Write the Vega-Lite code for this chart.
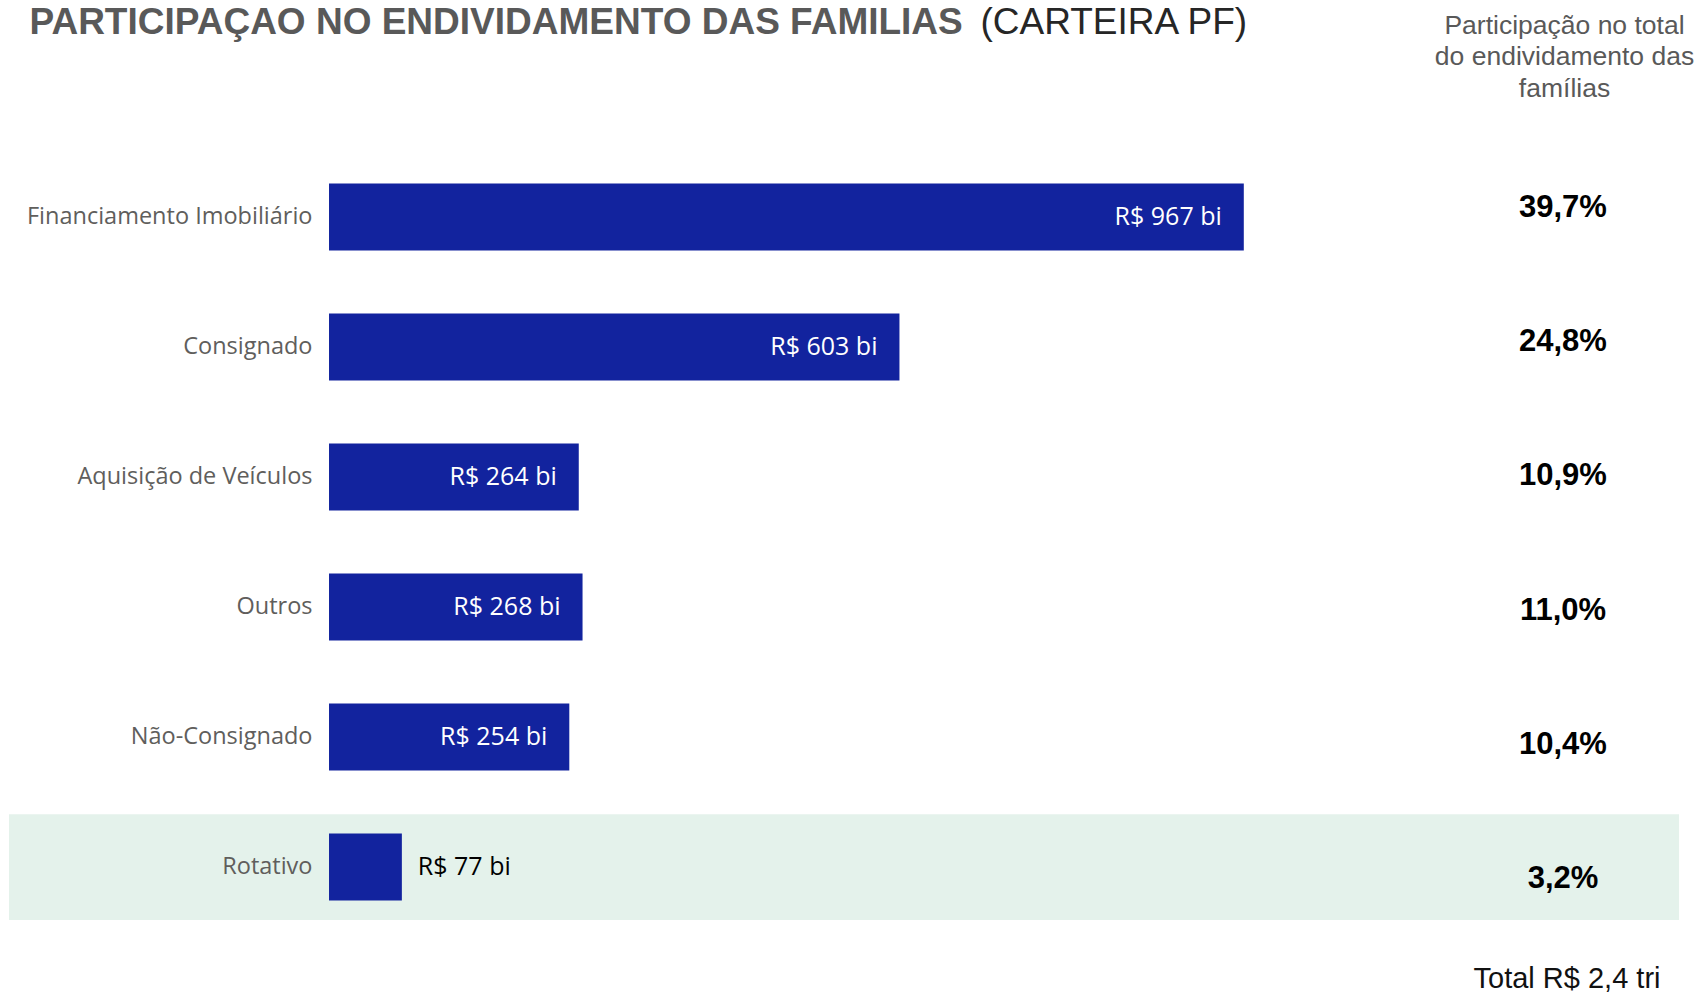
{
  "$schema": "https://vega.github.io/schema/vega-lite/v6.json",
  "width": 1701,
  "height": 993,
  "autosize": {"type": "none"},
  "padding": 0,
  "background": "white",
  "config": {
    "view": {"stroke": null},
    "axis": {"grid": false},
    "locale": {"number": {"decimal": ",", "thousands": ".", "grouping": [3], "currency": ["R$ ", ""]}}
  },
  "data": {
    "values": [
      {"categoria": "Financiamento Imobiliário", "valor": 967, "participacao": 0.397},
      {"categoria": "Consignado", "valor": 603, "participacao": 0.248},
      {"categoria": "Aquisição de Veículos", "valor": 264, "participacao": 0.109},
      {"categoria": "Outros", "valor": 268, "participacao": 0.110},
      {"categoria": "Não-Consignado", "valor": 254, "participacao": 0.104},
      {"categoria": "Rotativo", "valor": 77, "participacao": 0.032}
    ]
  },
  "layer": [
    {
      "encoding": {
        "y": {
          "field": "categoria",
          "type": "nominal",
          "sort": null,
          "scale": {
            "domain": ["Financiamento Imobiliário", "Consignado", "Aquisição de Veículos", "Outros", "Não-Consignado", "Rotativo"],
            "range": [152, 932],
            "paddingInner": 0.485,
            "paddingOuter": 0.2423
          },
          "axis": {
            "orient": "left",
            "offset": -329,
            "zindex": 1,
            "domain": false,
            "ticks": false,
            "grid": false,
            "labelPadding": 17,
            "labelFont": "Open Sans",
            "labelFontSize": 23.5,
            "labelColor": "#605E5C",
            "labelLimit": 400,
            "title": "(CARTEIRA PF)",
            "titleX": 651,
            "titleY": 33,
            "titleAngle": 0,
            "titleAlign": "left",
            "titleBaseline": "alphabetic",
            "titleFont": "Liberation Sans",
            "titleFontSize": 37,
            "titleFontWeight": "normal",
            "titleColor": "#262626"
          }
        }
      },
      "layer": [
        {
          "transform": [{"filter": "datum.categoria === 'Rotativo'"}],
          "mark": {"type": "bar", "color": "#E4F2EB", "height": {"band": 1.58}},
          "encoding": {
            "x": {"datum": -338.3, "type": "quantitative", "scale": {"domain": [-347.8, 1450.3], "nice": false, "zero": false}},
            "x2": {"datum": 1427.1}
          }
        },
        {
          "mark": {"type": "bar", "color": "#12239E"},
          "encoding": {
            "x": {
              "field": "valor",
              "type": "quantitative",
              "scale": {"domain": [-347.8, 1450.3], "nice": false, "zero": false},
              "axis": {
                "orient": "bottom",
                "labels": false,
                "ticks": false,
                "domain": false,
                "grid": false,
                "title": "Total R$ 2,4 tri",
                "titleX": 1660,
                "titleY": -6,
                "titleAlign": "right",
                "titleBaseline": "alphabetic",
                "titleFont": "Liberation Sans",
                "titleFontSize": 29,
                "titleFontWeight": "normal",
                "titleColor": "#111111"
              }
            }
          }
        },
        {
          "transform": [
            {"filter": "datum.valor > 100"},
            {"calculate": "'R$ ' + datum.valor + ' bi'", "as": "rotulo"}
          ],
          "mark": {"type": "text", "align": "right", "baseline": "middle", "dx": -22, "color": "white", "font": "Open Sans", "fontSize": 25},
          "encoding": {
            "x": {"field": "valor", "type": "quantitative", "scale": {"domain": [-347.8, 1450.3], "nice": false, "zero": false}},
            "text": {"field": "rotulo"}
          }
        },
        {
          "transform": [
            {"filter": "datum.valor <= 100"},
            {"calculate": "'R$ ' + datum.valor + ' bi'", "as": "rotulo"}
          ],
          "mark": {"type": "text", "align": "left", "baseline": "middle", "dx": 16, "color": "black", "font": "Open Sans", "fontSize": 25},
          "encoding": {
            "x": {"field": "valor", "type": "quantitative", "scale": {"domain": [-347.8, 1450.3], "nice": false, "zero": false}},
            "text": {"field": "rotulo"}
          }
        }
      ]
    },
    {
      "mark": {"type": "text", "align": "center", "baseline": "middle", "font": "Liberation Sans", "fontSize": 31, "fontWeight": "bold", "color": "black"},
      "encoding": {
        "x": {
          "datum": 1304.4,
          "type": "quantitative",
          "scale": {"domain": [-347.8, 1450.3], "nice": false, "zero": false},
          "axis": {
            "orient": "top",
            "labels": false,
            "ticks": false,
            "domain": false,
            "grid": false,
            "title": "PARTICIPAÇAO NO ENDIVIDAMENTO DAS FAMILIAS",
            "titleX": 29,
            "titleY": 33,
            "titleAngle": 0,
            "titleAlign": "left",
            "titleBaseline": "alphabetic",
            "titleFont": "Liberation Sans",
            "titleFontSize": 37,
            "titleFontWeight": "bold",
            "titleColor": "#595959"
          }
        },
        "y": {
          "field": "categoria",
          "type": "nominal",
          "sort": null,
          "scale": {
            "domain": ["Financiamento Imobiliário", "Consignado", "Aquisição de Veículos", "Outros", "Não-Consignado", "Rotativo"],
            "range": [141, 946],
            "paddingInner": 0,
            "paddingOuter": 0
          },
          "axis": {
            "orient": "right",
            "labels": false,
            "ticks": false,
            "domain": false,
            "grid": false,
            "title": ["Participação no total", "do endividamento das", "famílias"],
            "titleX": -137,
            "titleY": 33,
            "titleAngle": 0,
            "titleAlign": "center",
            "titleBaseline": "alphabetic",
            "titleFont": "Liberation Sans",
            "titleFontSize": 26.5,
            "titleFontWeight": "normal",
            "titleColor": "#595959",
            "titleLineHeight": 31.5
          }
        },
        "text": {"field": "participacao", "type": "quantitative", "format": ".1%"}
      }
    }
  ],
  "resolve": {"scale": {"y": "independent"}, "axis": {"y": "independent", "x": "independent"}}
}
